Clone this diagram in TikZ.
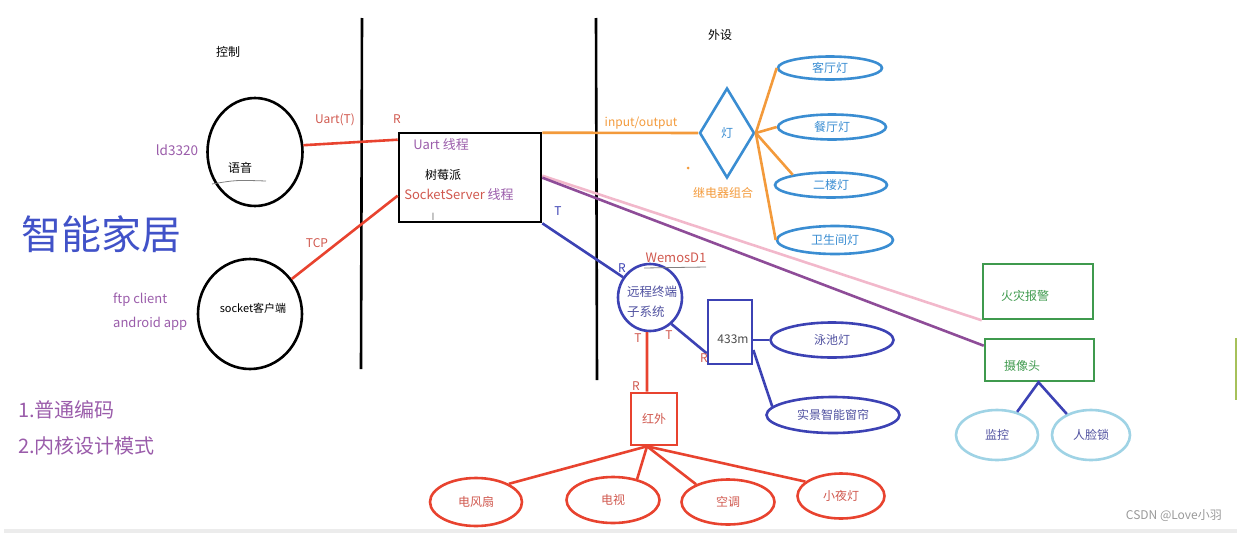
\documentclass[tikz,border=0pt]{standalone}
\usepackage{fontspec}
\setmainfont{Noto Sans CJK SC}
\usetikzlibrary{shapes.geometric, calc}

\definecolor{lnred}{HTML}{E8432F}
\definecolor{txred}{HTML}{D0584E}
\definecolor{txpurple}{HTML}{9A5CAA}
\definecolor{lnorange}{HTML}{F39A3B}
\definecolor{lampblue}{HTML}{3A8DD2}
\definecolor{dkblue}{HTML}{3C42B4}
\definecolor{txblue}{HTML}{5051A0}
\definecolor{fgreen}{HTML}{3F9A4E}
\definecolor{lnpink}{HTML}{F2B8CB}
\definecolor{lnviolet}{HTML}{8E4C98}
\definecolor{skyblue}{HTML}{9FD3E5}
\definecolor{titleblue}{HTML}{4152C8}
\definecolor{sliver}{HTML}{A6C15A}

\begin{document}
\begin{tikzpicture}[x=1pt, y=-1pt,
        base/.style={font=\fontsize{12}{14}\selectfont, inner sep=1pt},
        tag/.style={base, text=txred},
        wall/.style={line width=2.6pt, black},
        wire/.style={line width=2.6pt},
        bubble/.style={ellipse, draw, line width=2.6pt, base, inner sep=0pt},
        box/.style={rectangle, draw, line width=2.6pt, base, inner sep=0pt},
        light/.style={bubble, draw=lampblue, text=lampblue},
        appliance/.style={bubble, draw=lnred, text=txred},
        remote/.style={bubble, draw=dkblue, text=txblue},
        gbox/.style={box, draw=fgreen}
    ]
        \useasboundingbox (0,0) rectangle (1237,533);
        \begin{scope}
            \clip (0,0) rectangle (1237,533);
            \fill[gray!15] (4,529) rectangle (1237,533);
            \fill[sliver] (1234.5,338) rectangle (1240,400);
        \end{scope}

        % Boundaries
        \draw[wall] (362,18) -- (361,369);
        \draw[wall] (596,18) -- (597,380);

        % Headings
        \node[base] (ctrl) at (228,52) {控制};
        \node[base] (periph) at (720,35) {外设};
        \node[font=\fontsize{40}{44}\selectfont, text=titleblue, inner sep=0pt] (title) at (101,234) {智能家居};
        \node[font=\fontsize{20}{24}\selectfont, text=txpurple, anchor=west, inner sep=0pt] (note1) at (18,410) {1.普通编码};
        \node[font=\fontsize{20}{24}\selectfont, text=txpurple, anchor=west, inner sep=0pt] (note2) at (18,446) {2.内核设计模式};

        % Control side
        \node[bubble, minimum width=95, minimum height=108] (voice) at (255,152) {};
        \node[base] (voicetxt) at (240,168) {语音};
        \draw[gray, line width=0.8pt] (212,184) .. controls (236,180) .. (266,181);
        \node[base, text=txpurple, font=\fontsize{13.5}{15}\selectfont] (ld) at (177,150) {ld3320};

        \node[bubble, minimum width=104, minimum height=110] (socket) at (250,314) {};
        \node[base, font=\fontsize{11}{13}\selectfont] (sockettxt) at (253,308) {socket客户端};
        \node[base, text=txpurple, anchor=west, font=\fontsize{13}{15}\selectfont] (ftp) at (112,300) {ftp client};
        \node[base, text=txpurple, anchor=west, font=\fontsize{13}{15}\selectfont] (app) at (112,324) {android app};

        % Raspberry Pi
        \node[box, minimum width=142, minimum height=89] (pi) at (470,177.5) {};
        \node[base, text=txpurple, font=\fontsize{13}{15}\selectfont] (uartthr) at (441,145) {Uart 线程};
        \node[base] (pitxt) at (443,175) {树莓派};
        \node[base, font=\fontsize{13}{15}\selectfont] (sockthr) at (459,195) {\textcolor{txred}{SocketServer} \textcolor{txpurple}{线程}};
        \node[text=gray, font=\fontsize{10}{10}\selectfont, inner sep=0pt] (cursor) at (433,217) {I};

        \draw[wire, lnred] (voice.8) -- ([yshift=-8pt]pi.north west);
        \draw[wire, lnred] (socket.40) -- ([yshift=-64pt]pi.north west);
        \node[tag] (uartT) at (335,120) {Uart(T)};
        \node[tag] (uartR) at (397,119) {R};
        \node[tag] (tcp) at (317,243) {TCP};

        % Lights
        \node[diamond, draw=lampblue, line width=2.6pt, minimum width=55, minimum height=90, base, inner sep=0pt, text=lampblue] (lamp) at (727,133) {灯};
        \draw[wire, lnorange] ([yshift=-1pt]pi.north east) -- (lamp.west);
        \node[base, text=lnorange] (io) at (641,123) {input/output};
        \node[base, text=lnorange] (relay) at (723,193) {继电器组合};
        \fill[lnorange] (688,168) circle (1.5);

        \node[light, minimum width=104, minimum height=23] (living) at (830,68) {客厅灯};
        \node[light, minimum width=108, minimum height=25] (dining) at (832,127) {餐厅灯};
        \node[light, minimum width=112, minimum height=25] (upstairs) at (831,185) {二楼灯};
        \node[light, minimum width=116, minimum height=28] (bath) at (835,240) {卫生间灯};
        \foreach \l in {living, dining, bath}
            \draw[wire, lnorange] (lamp.east) -- (\l.west);
        \draw[wire, lnorange] (lamp.east) -- (upstairs.165);

        % Fire alarm and camera
        \node[gbox, minimum width=110, minimum height=55] (fire) at (1038,291.5) {};
        \node[base, text=fgreen] (firetxt) at (1025,296) {火灾报警};
        \node[gbox, minimum width=109, minimum height=42] (cam) at (1039.5,360) {};
        \node[base, text=fgreen] (camtxt) at (1022,366) {摄像头};
        \draw[wire, lnpink] ([yshift=-44pt]pi.north east) -- (fire.south west);
        \draw[wire, lnviolet] ([yshift=-46pt]pi.north east) -- ([yshift=-8pt]cam.north west);

        \node[bubble, draw=skyblue, text=txblue, minimum width=82, minimum height=50] (monitor) at (997,435) {监控};
        \node[bubble, draw=skyblue, text=txblue, minimum width=78, minimum height=50] (face) at (1091,435) {人脸锁};
        \draw[wire, dkblue] (monitor.49) -- ([xshift=-1pt]cam.south) -- (face.139);

        % Remote terminal
        \node[remote, minimum width=64, minimum height=67] (wemos) at (650,297.5) {};
        \node[base, text=txblue, font=\fontsize{12.5}{20}\selectfont, align=left, anchor=west] (wemostxt) at (626,302) {远程终端\\子系统};
        \draw[wire, dkblue] (pi.south east) -- (wemos.143);
        \node[base, text=dkblue] (piT) at (558,211) {T};
        \node[base, text=dkblue] (wemosR) at (622,268) {R};
        \node[tag, font=\fontsize{13}{15}\selectfont] (wemosname) at (676,258) {WemosD1};
        \draw[gray, line width=0.8pt] (644,268) -- (706,267);

        % 433M
        \node[box, draw=dkblue, text=black!70, minimum width=44, minimum height=64] (rf) at (730,332) {};
        \node[base, text=black!70] (rftxt) at (733,339) {433m};
        \node[remote, minimum width=123, minimum height=35] (pool) at (832,340) {泳池灯};
        \node[remote, minimum width=133, minimum height=36] (curtain) at (833,415) {实景智能窗帘};
        \draw[wire, dkblue] (wemos.-51) -- ([yshift=12pt]rf.south west);
        \draw[wire, dkblue] (pool.west -| rf.east) -- (pool.west);
        \draw[wire, dkblue] ([yshift=-18pt]rf.east) -- (curtain.172);
        \node[tag] (wemosT2) at (669,335) {T};
        \node[tag] (rfR) at (704,358) {R};

        % Infrared
        \node[box, draw=lnred, text=txred, minimum width=46, minimum height=52] (ir) at (654,419) {红外};
        \draw[wire, lnred] (wemos.265) -- ([xshift=-7pt]ir.north);
        \node[tag] (wemosT1) at (638,338) {T};
        \node[tag] (irR) at (636,386) {R};

        \node[appliance, minimum width=92, minimum height=48] (fan) at (476,502) {电风扇};
        \node[appliance, minimum width=93, minimum height=46] (tv) at (613,500) {电视};
        \node[appliance, minimum width=93, minimum height=45] (ac) at (728,502) {空调};
        \node[appliance, minimum width=87, minimum height=45] (night) at (841,496) {小夜灯};
        \coordinate (irfoot) at ([xshift=-7pt]ir.south);
        \draw[wire, lnred] (irfoot) -- (fan.29);
        \draw[wire, lnred] (irfoot) -- (tv.41);
        \draw[wire, lnred] (irfoot) -- (ac.151);
        \draw[wire, lnred] (irfoot) -- (night.158);

        % Watermark
        \node[font=\fontsize{12}{14}\selectfont, text=gray!80, anchor=east, inner sep=0pt] (mark) at (1222,516) {CSDN @Love小羽};

    \end{tikzpicture}
\end{document}
